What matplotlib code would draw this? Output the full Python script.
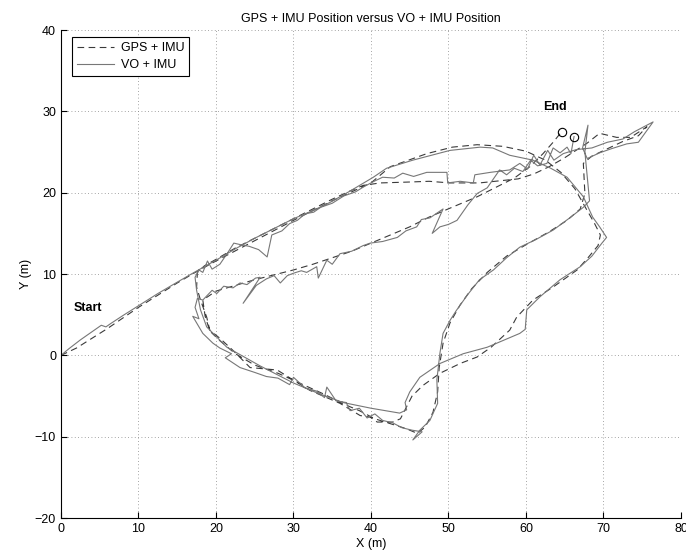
import numpy as np
import matplotlib
matplotlib.use('Agg')
import matplotlib.pyplot as plt

plt.rcParams['font.family'] = ['Liberation Sans', 'DejaVu Sans']

# VO + IMU track, lap 1: start line, upper arc, outer right side, smooth bottom
vo1_x = [0, 1, 2.5, 4, 5.2, 5.8, 6.4, 8, 10, 12.5, 15, 17, 20, 22.5, 25, 27.5, 30, 32.5,
         34.7, 37.3, 40.3, 42, 45.4, 50.2, 54.1, 55.7, 57.9, 60.9, 63.2, 65.3, 67.4, 68.6,
         69.5, 70.4, 69.8, 68.5, 67, 64.4, 61.8, 60.1, 59.9, 59.2, 55, 51.9, 48.9, 46.3,
         45, 44.4, 44.6, 43.7, 40, 36.4, 33, 30, 25.7, 21.4, 18.8, 18, 17.5, 17.3, 17.8]
vo1_y = [0, 0.8, 1.9, 2.9, 3.7, 3.5, 3.9, 4.9, 6.1, 7.6, 9.0, 10.1, 11.7, 13.1, 14.4, 15.6,
         16.8, 17.8, 18.8, 20.2, 21.9, 23, 24, 25.2, 25.6, 25.5, 24.6, 24.0, 23.0, 21.9, 19.5,
         17.0, 15.8, 14.5, 13.8, 12.2, 10.9, 9.3, 7.2, 5.6, 3.2, 2.7, 1.0, 0.2, -1.0, -2.7,
         -4.5, -5.8, -6.7, -7.1, -6.5, -5.8, -4.6, -3.4, -1.3, 1.0, 3.5, 5.6, 8.0, 9.6, 10.5]

# lap 2: jagged upper line, right tip, inner right side, jagged bottom
vo2_x = [18.3, 18.9, 19.5, 20.5, 21.5, 22.3, 23.2, 24.3, 25.5, 26.6, 27.2, 28.5, 29.5, 30.5,
         31.5, 32.6, 33.5, 35, 36.5, 38, 39.2, 40.4, 41.5, 43, 44.1, 45.5, 47.2, 49.8, 49.9,
         51.5, 53.2, 53.4, 55.4, 57.9, 59.2, 60.2, 61.0, 61.8, 62.8, 63.6, 64.8, 66.5, 68.5,
         70.5, 72.5, 74.0, 76.4, 74.5, 73, 71, 69.5, 67.9, 67.3, 68.0, 67.6, 67.9, 68.2, 67.4,
         65.5, 63.5, 61.2, 59.2, 57.5, 55.8, 54.0, 52.5, 51.0, 50.2, 49.3, 48.9, 48.5, 48.6,
         47.6, 46.3, 45.4, 46.6, 45.3, 44.0, 42.8, 41.5, 40.5, 39.5, 38.5, 37.3, 36.8, 35.5,
         34.3, 34.0, 33.0, 31.5, 30.0, 29.5, 28.0, 26.5, 25.0, 23.1, 21.2, 22.0, 20.5, 19.6,
         18.3, 17.0, 17.8, 17.3, 17.6, 18.3]
vo2_y = [10.2, 11.6, 10.6, 11.2, 12.6, 13.8, 13.6, 13.4, 13.0, 12.1, 14.8, 15.3, 16.2, 16.6,
         17.4, 17.6, 18.2, 18.7, 19.6, 20.1, 20.8, 21.4, 21.9, 21.8, 22.4, 22.0, 22.5, 22.5,
         21.2, 21.4, 21.2, 22.2, 22.5, 22.8, 23.6, 22.9, 24.6, 23.4, 25.2, 24.0, 24.8, 25.3,
         25.5, 26.2, 26.6, 27.5, 28.7, 26.2, 26.0, 25.4, 24.9, 24.2, 25.5, 28.3, 25.0, 22.0,
         19.0, 18.2, 16.8, 15.4, 14.2, 13.3, 12.0, 10.5, 9.3, 7.5, 5.5, 4.3, 2.7, 0.3, -3.0,
         -5.9, -8.0, -9.2, -10.4, -9.4, -9.2, -8.9, -8.3, -8.0, -7.2, -7.7, -6.5, -6.8, -5.8,
         -5.6, -3.9, -5.2, -4.4, -4.0, -2.7, -3.6, -2.8, -2.6, -2.1, -1.5, -0.3, 0.2, 0.9, 1.5,
         2.7, 4.8, 4.5, 5.9, 7.0, 6.8]

# lap 3: jagged middle line up to the end point
vo3_x = [18.3, 19.5, 20.1, 21.0, 22.2, 23.1, 24.0, 25.1, 25.7, 23.5, 25.2, 26.5, 27.5, 28.3,
         29.2, 30.0, 31.0, 31.7, 33.0, 33.2, 34.3, 35.0, 36.0, 37.5, 39.0, 39.9, 41.5, 43.4,
         44.5, 45.9, 46.5, 47.6, 49.3, 47.9, 48.9, 50.0, 51.1, 52.5, 53.7, 55.0, 56.6, 57.5,
         58.5, 59.6, 60.6, 61.5, 62.7, 63.5, 64.4, 65.3, 65.8, 66.2]
vo3_y = [6.8, 8.0, 7.6, 8.5, 8.3, 8.9, 8.7, 9.5, 9.6, 6.4, 8.6, 9.4, 9.8, 8.9, 9.8, 10.1,
         10.4, 10.2, 10.9, 9.5, 11.7, 11.2, 12.5, 12.8, 13.5, 13.8, 14.0, 14.5, 15.3, 15.8,
         16.7, 16.9, 18.0, 15.0, 15.8, 16.1, 16.6, 18.5, 19.9, 20.6, 22.8, 22.2, 23.0, 22.6,
         24.0, 23.3, 23.6, 25.5, 24.9, 25.6, 24.8, 26.9]

# GPS + IMU track, same three laps
gps1_x = [0, 2, 4, 6, 8, 10, 12.5, 15, 17.5, 20, 25, 30, 35, 40, 42.5, 47.2, 50.5, 53.7, 57,
          60, 62.5, 64.5, 66.3, 67.6, 68.8, 69.6, 69.3, 68, 66.6, 63.5, 60.9, 58.8, 57.9, 55.5,
          53.7, 51.5, 50.2, 48.9, 46.7, 45.3, 44.5, 43.8, 42.8, 40.8, 39.9, 38.6, 36.0, 32.1,
          27.9, 24.4, 22.2, 20.5, 19.2, 18.8, 18.0, 17.5, 17.6]
gps1_y = [0, 0.9, 2.1, 3.3, 4.6, 5.9, 7.4, 8.9, 10.3, 11.6, 14.1, 16.6, 19.0, 21.2, 23.2,
          24.8, 25.6, 25.9, 25.7, 25.1, 24.0, 22.5, 20.5, 18.3, 16.3, 14.8, 13.5, 12.0, 10.5,
          8.4, 6.8, 4.7, 3.1, 1.0, -0.2, -1.0, -1.6, -2.2, -3.7, -5.0, -6.5, -7.8, -8.2, -8.2,
          -7.6, -7.4, -5.9, -4.3, -1.8, -1.5, 0.6, 2.1, 3.1, 4.7, 6.8, 8.4, 10.2]

gps2_x = [18.5, 20, 22.5, 25, 27.5, 30, 32.5, 35, 37.5, 39, 41.2, 44.6, 47.5, 50.2, 54, 57,
          59, 61, 63, 65, 67.9, 69.5, 71.7, 73.5, 75.6, 74.5, 72.5, 70.5, 68.5, 67.4, 67.6,
          67.0, 65.3, 63, 60, 57.5, 55, 53, 51.5, 50.2, 49.3, 48.8, 48.6, 48.0, 47.0, 46.0,
          44.5, 42.5, 40.5, 38.5, 36.5, 34.0, 31.0, 28.0, 25.0, 22.5, 20.5, 19.2, 18.6, 18.3]
gps2_y = [11.0, 11.8, 13.2, 14.4, 15.6, 16.8, 18.0, 19.2, 20.3, 20.9, 21.2, 21.3, 21.4, 21.2,
          21.2, 21.5, 21.7, 22.3, 23.2, 24.3, 26.1, 27.3, 26.8, 26.8, 28.1, 27.0, 26.3, 25.4,
          24.5, 23.6, 19.9, 18.0, 16.6, 15.2, 13.6, 12.2, 10.2, 8.2, 6.2, 4.0, 1.5, -1.5, -4.5,
          -7.0, -8.8, -9.6, -9.0, -8.4, -7.8, -6.8, -6.0, -4.8, -3.5, -2.2, -1.2, 0.2, 1.8,
          3.0, 4.8, 6.8]

gps3_x = [18.3, 20, 22.5, 25, 27.5, 30, 32.5, 35, 37.5, 40, 42.5, 45, 47.5, 50.2, 53.7, 56,
          58.5, 60.5, 62.2, 63.5, 64.6]
gps3_y = [6.8, 7.9, 8.6, 9.3, 9.9, 10.5, 11.2, 12.0, 12.8, 13.8, 14.8, 15.8, 17.0, 18.1,
          19.5, 20.6, 21.8, 23.2, 24.8, 26.2, 27.5]

gps_x = gps1_x + gps2_x + gps3_x
gps_y = gps1_y + gps2_y + gps3_y
vo_x = vo1_x + vo2_x + vo3_x
vo_y = vo1_y + vo2_y + vo3_y

fig = plt.figure(figsize=(6.86, 5.59), dpi=100)
ax = fig.add_axes([0.0889, 0.0733, 0.9038, 0.873])

ax.plot(gps_x, gps_y, color='#3a3a3a', lw=0.8, dashes=(6, 4), label='GPS + IMU')
ax.plot(vo_x, vo_y, color='#777777', lw=0.8, label='VO + IMU')
ax.plot(gps_x[-1], gps_y[-1], 'o', ms=6, mfc='none', mec='k', mew=0.8)
ax.plot(vo_x[-1], vo_y[-1], 'o', ms=6, mfc='none', mec='k', mew=0.8)

ax.text(3.5, 5.8, 'Start', fontsize=9, fontweight='bold', ha='center', va='center')
ax.text(63.7, 30.5, 'End', fontsize=9, fontweight='bold', ha='center', va='center')

ax.set_xlim(0, 80)
ax.set_ylim(-20, 40)
ax.set_xticks(np.arange(0, 81, 10))
ax.set_yticks(np.arange(-20, 41, 10))
ax.set_yticklabels(['\u221220', '\u221210', '0', '10', '20', '30', '40'])
ax.tick_params(direction='in', length=4, width=0.8, labelsize=9)
ax.grid(True, color='#888888', lw=0.6, linestyle=(0, (1, 3)))
for s in ['top', 'right']:
    ax.spines[s].set_visible(False)
for s in ['left', 'bottom']:
    ax.spines[s].set_linewidth(0.8)

ax.set_title('GPS + IMU Position versus VO + IMU Position', fontsize=9, pad=6)
ax.set_xlabel('X (m)', fontsize=9, labelpad=2)
ax.set_ylabel('Y (m)', fontsize=9, labelpad=2)

leg = ax.legend(loc='upper left', bbox_to_anchor=(11 / 620, 1 - 7 / 488), borderaxespad=0,
                fontsize=9, fancybox=False, edgecolor='k', framealpha=1,
                handlelength=3.0, handletextpad=0.5, borderpad=0.4, labelspacing=0.4)
leg.get_frame().set_linewidth(0.8)

plt.savefig('out.png', dpi=100)
